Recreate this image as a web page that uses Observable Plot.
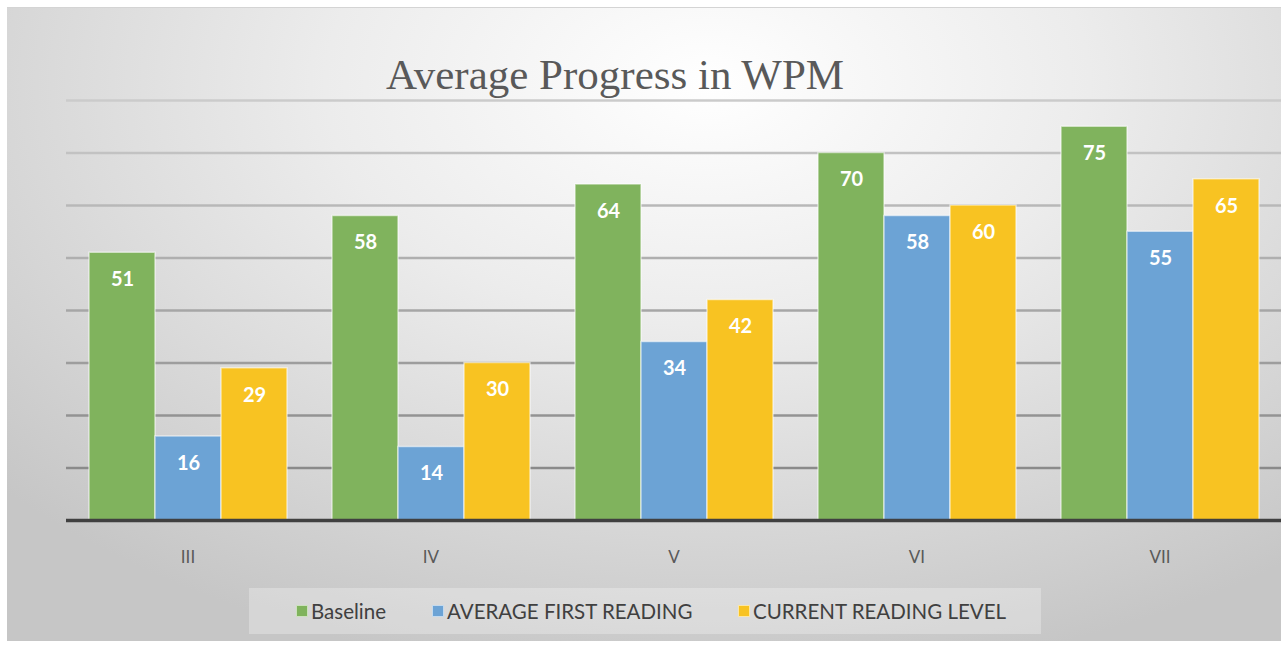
<!DOCTYPE html>
<html>
<head>
<meta charset="utf-8">
<script src="https://cdn.jsdelivr.net/npm/d3@7"></script>
<script src="https://cdn.jsdelivr.net/npm/@observablehq/plot@0.6"></script>
<style>
  body { margin: 0; width: 1286px; height: 646px; background: #ffffff; overflow: hidden; position: relative; font-family: Lato, "Open Sans", sans-serif; }
  #panel { position: absolute; left: 7px; top: 7px; width: 1274px; height: 633px;
    background: radial-gradient(ellipse 75% 95% at 55% 12%, #ffffff 0%, #ececec 40%, #d6d6d6 75%, #c6c6c6 100%);
    border-top: 1px solid #d4d4d4; }
  #title { position: absolute; top: 50px; left: 0; width: 1230px; text-align: center;
    font-family: "Liberation Serif", serif; font-size: 43px; color: #595959; }
  #chart { position: absolute; left: 0; top: 90px; }
  #legend { position: absolute; left: 249px; top: 588px; width: 792px; height: 46px; background: rgba(255,255,255,0.28); }
  .item { position: absolute; top: 0; height: 46px; display: flex; align-items: center; font-size: 20.5px; color: #404040; }
  .sw { width: 12px; height: 12px; margin-right: 3px; border: 1px solid rgba(255,255,255,0.6); box-sizing: border-box; }
</style>
</head>
<body>
<div id="panel"></div>
<div id="title">Average Progress in WPM</div>
<div id="chart"></div>
<div id="legend"></div>
<script>
const grades = ["III", "IV", "V", "VI", "VII"];
const seriesNames = ["Baseline", "AVERAGE FIRST READING", "CURRENT READING LEVEL"];
const baseline = [51, 58, 64, 70, 75];
const firstReading = [16, 14, 34, 58, 55];
const currentLevel = [29, 30, 42, 60, 65];
const seriesColors = ["#80b35d", "#6ca3d5", "#f8c322"];
const gridTicks = [10, 20, 30, 40, 50, 60, 70, 80];

const seriesValues = [baseline, firstReading, currentLevel];
const rows = [];
grades.forEach((g, i) => {
  seriesNames.forEach((s, j) => rows.push({grade: g, series: s, value: seriesValues[j][i], color: seriesColors[j]}));
});
const gridColor = d3.scaleLinear().domain([10, 80]).range(["#8a8a8a", "#cbcbcb"]);

const chart = Plot.plot({
  width: 1286,
  height: 490,
  marginTop: 10,
  marginBottom: 60,
  marginLeft: 65,
  marginRight: 4,
  style: {background: "transparent", fontFamily: "Lato, 'Open Sans', sans-serif", fontSize: "17px", color: "#595959", overflow: "visible"},
  facet: {data: rows, x: "grade"},
  fx: {domain: grades, padding: 0, label: null, tickSize: 0, tickPadding: 30},
  x: {domain: seriesNames, paddingInner: 0, paddingOuter: 0.333, axis: null},
  y: {domain: [0, 80], axis: null},
  color: {type: "identity"},
  marks: [
    Plot.ruleY(gridTicks, {y: d => d, stroke: d => gridColor(d), strokeWidth: 2.5}),
    Plot.barY(rows, {x: "series", y: "value", fill: "color", stroke: "rgba(255,255,255,0.55)", strokeWidth: 1.5}),
    Plot.text(rows, {x: "series", y: "value", text: d => String(d.value), dy: 27, fill: "white", fontSize: 20, fontWeight: "bold"}),
    Plot.ruleY([0], {stroke: "#404040", strokeWidth: 3.5})
  ]
});
document.getElementById("chart").appendChild(chart);

const legend = document.getElementById("legend");
const itemLeft = [47, 183, 489];
seriesNames.forEach((s, j) => {
  const it = document.createElement("div");
  it.className = "item";
  it.style.left = itemLeft[j] + "px";
  const sw = document.createElement("div");
  sw.className = "sw";
  sw.style.background = seriesColors[j];
  const tx = document.createElement("span");
  tx.textContent = s;
  it.appendChild(sw);
  it.appendChild(tx);
  legend.appendChild(it);
});
</script>
</body>
</html>
